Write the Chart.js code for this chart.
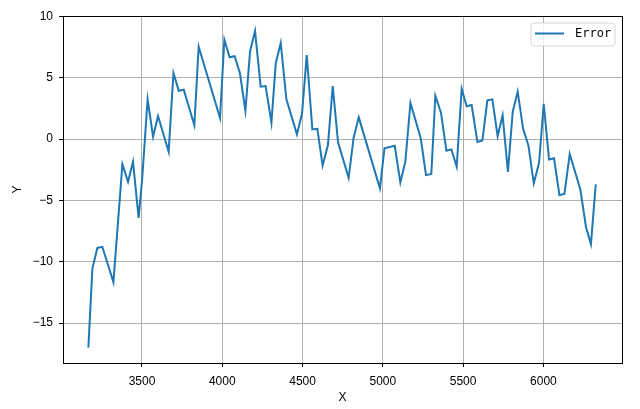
<!DOCTYPE html>
<html>
<head>
<meta charset="utf-8">
<script src="https://cdn.jsdelivr.net/npm/chart.js@4"></script>
<style>
  html, body { margin: 0; padding: 0; background: #fff; }
  #wrap { width: 640px; height: 409px; }
</style>
</head>
<body>
<div id="wrap"><canvas id="errorChart"></canvas></div>
<script>
// values
const xValues = [3166, 3191, 3222, 3253, 3322, 3378, 3413, 3444, 3479, 3501,
    3535, 3569, 3600, 3666, 3696, 3729, 3760, 3826, 3853, 3986,
    4013, 4046, 4077, 4110, 4144, 4173, 4204, 4239, 4270, 4306,
    4333, 4364, 4399, 4465, 4497, 4526, 4561, 4592, 4625, 4658,
    4688, 4721, 4787, 4818, 4850, 4982, 5010, 5074, 5109, 5140,
    5172, 5236, 5269, 5302, 5327, 5362, 5396, 5427, 5460, 5491,
    5522, 5553, 5589, 5620, 5651, 5682, 5715, 5746, 5779, 5809,
    5840, 5873, 5907, 5940, 5973, 6002, 6035, 6066, 6100, 6131,
    6164, 6230, 6265, 6296, 6326];
const errorValues = [-17.0, -10.55, -8.87, -8.78, -11.66, -2.04, -3.48, -1.85, -6.42, -3.26,
    3.24, 0.19, 1.88, -1.04, 5.38, 3.94, 4.02, 1.12, 7.53, 1.71,
    8.10, 6.66, 6.75, 5.36, 2.31, 7.15, 8.81, 4.27, 4.32, 1.33,
    6.17, 7.83, 3.26, 0.38, 2.10, 6.85, 0.79, 0.84, -2.15, -0.49,
    4.32, -0.27, -3.16, 0.11, 1.77, -4.02, -0.76, -0.55, -3.53, -1.85,
    2.94, 0.06, -2.94, -2.85, 3.53, 2.15, -0.95, -0.84, -2.26, 4.10,
    2.67, 2.77, -0.24, -0.11, 3.16, 3.24, 0.24, 1.93, -2.67, 2.23,
    3.86, 0.87, -0.55, -3.61, -1.93, 2.88, -1.66, -1.57, -4.57, -4.46,
    -1.22, -4.10, -7.15, -8.56, -3.69];
const xTicks = [3500, 4000, 4500, 5000, 5500, 6000];
const yTicks = [-15, -10, -5, 0, 5, 10];
const seriesName = "Error";

const lineColor = "#1f77b4";
const gridColor = "#b0b0b0";
const tickFont = { family: "'Liberation Sans', Arial, sans-serif", size: 12 };

const points = xValues.map((x, i) => ({ x: x, y: errorValues[i] }));

// matplotlib writes negatives with a real minus sign
const fmtTick = (v) => (v < 0 ? "\u2212" + Math.abs(v) : String(v));

// black box around the plot area + matplotlib-like legend
const framePlugin = {
    id: "frame",
    afterDraw(chart) {
        const { ctx, chartArea: a } = chart;
        ctx.save();
        ctx.strokeStyle = "#000";
        ctx.lineWidth = 1;
        ctx.strokeRect(Math.round(a.left) + 0.5, Math.round(a.top) + 0.5,
            Math.round(a.right - a.left), Math.round(a.bottom - a.top));

        // legend box
        const bx = 531, by = 23, bw = 84, bh = 23, r = 3;
        ctx.beginPath();
        ctx.moveTo(bx + r, by);
        ctx.arcTo(bx + bw, by, bx + bw, by + bh, r);
        ctx.arcTo(bx + bw, by + bh, bx, by + bh, r);
        ctx.arcTo(bx, by + bh, bx, by, r);
        ctx.arcTo(bx, by, bx + bw, by, r);
        ctx.closePath();
        ctx.fillStyle = "rgba(255,255,255,0.8)";
        ctx.fill();
        ctx.strokeStyle = "#d6d6d6";
        ctx.stroke();

        ctx.beginPath();
        ctx.moveTo(535, 33.5);
        ctx.lineTo(564, 33.5);
        ctx.strokeStyle = lineColor;
        ctx.lineWidth = 2;
        ctx.stroke();

        ctx.fillStyle = "#000";
        ctx.font = "12px 'DejaVu Sans Mono', monospace";
        ctx.textBaseline = "middle";
        ctx.textAlign = "left";
        ctx.fillText(seriesName, 575, 34);
        ctx.restore();
    }
};

new Chart(document.getElementById("errorChart"), {
    type: "line",
    data: {
        datasets: [{
            label: seriesName,
            data: points,
            borderColor: lineColor,
            backgroundColor: lineColor,
            borderWidth: 2,
            pointRadius: 0,
            tension: 0,
            fill: false
        }]
    },
    options: {
        responsive: true,
        maintainAspectRatio: false,
        animation: false,
        layout: { padding: { top: 16, right: 18, left: 0, bottom: 0 } },
        plugins: {
            legend: { display: false },
            tooltip: { enabled: false }
        },
        scales: {
            x: {
                type: "linear",
                min: 3008,
                max: 6489.5,
                afterBuildTicks: (scale) => { scale.ticks = xTicks.map(v => ({ value: v })); },
                afterFit: (scale) => { scale.height = 46; },
                grid: { color: gridColor, lineWidth: 1, tickColor: "#000", tickLength: 4 },
                border: { color: "#000" },
                ticks: { color: "#000", font: tickFont, padding: 7, maxRotation: 0, callback: fmtTick },
                title: { display: true, text: "X", color: "#000", font: tickFont, padding: { top: 0, bottom: 4 } }
            },
            y: {
                min: -18.25,
                max: 10.03,
                afterBuildTicks: (scale) => { scale.ticks = yTicks.map(v => ({ value: v })); },
                afterFit: (scale) => { scale.width = 63; },
                grid: { color: gridColor, lineWidth: 1, tickColor: "#000", tickLength: 4 },
                border: { color: "#000" },
                ticks: { color: "#000", font: tickFont, padding: 6, callback: fmtTick },
                title: { display: true, text: "Y", color: "#000", font: tickFont, padding: { top: 10, bottom: 0 } }
            }
        }
    },
    plugins: [framePlugin]
});
</script>
</body>
</html>
